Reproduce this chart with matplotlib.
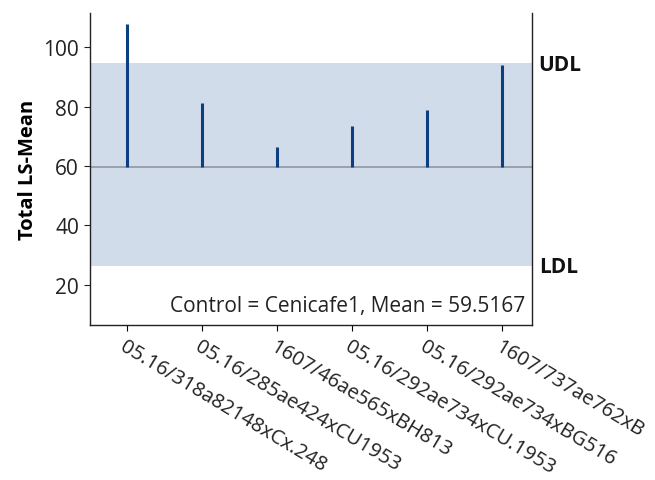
import matplotlib
matplotlib.use("Agg")
import matplotlib.pyplot as plt

plt.rcParams['font.family'] = ['Open Sans', 'DejaVu Sans']

# data
labels = ["05.16/318a82148xCx.248", "05.16/285ae424xCU1953", "1607/46ae565xBH813",
          "05.16/292ae734xCU.1953", "05.16/292ae734xBG516", "1607/737ae762xB"]
ls_means = [107.7, 81.2, 66.3, 73.4, 78.9, 94.0]
control_mean = 59.5167
udl = 94.7
ldl = 26.4

fig = plt.figure(figsize=(6.55, 4.81), dpi=100)
ax = fig.add_axes([90 / 655, 1 - 326 / 481, 442 / 655, 312 / 481])

x = list(range(len(labels)))
ax.axhspan(ldl, udl, color="#d1dcea", zorder=0, lw=0)
ax.axhline(control_mean, color="#8c9098", lw=1.1, zorder=1)
ax.vlines(x, control_mean, ls_means, color="#0b3f7f", lw=2.2, zorder=2)

ax.set_xlim(-0.49, 5.40)
ax.set_ylim(6.5, 111.5)
ax.set_yticks([20, 40, 60, 80, 100])
ax.set_xticks(x)
ax.set_xticklabels(labels, rotation=-31, ha="left", va="top",
                   rotation_mode="anchor", fontsize=14.6, color="#222222")
ax.tick_params(axis="y", labelsize=15, length=4.3, colors="#222222", pad=3.6)
ax.tick_params(axis="x", length=4.3, pad=4)
ax.spines["top"].set_visible(False)
for s in ["left", "bottom", "right"]:
    ax.spines[s].set_color("#222222")
    ax.spines[s].set_linewidth(1.0)

ax.set_ylabel("Total LS-Mean", fontsize=14.5, fontweight="bold", labelpad=4)

ax.text(0.985, 0.03, f"Control = Cenicafe1, Mean = {control_mean:.4f}",
        transform=ax.transAxes, ha="right", va="bottom", fontsize=15, color="#222222")

ax.text(1.015, udl - 0.6, "UDL", transform=ax.get_yaxis_transform(), ha="left", va="center",
        fontsize=15, fontweight="bold", color="#111111")
ax.text(1.015, ldl - 0.3, "LDL", transform=ax.get_yaxis_transform(), ha="left", va="center",
        fontsize=15, fontweight="bold", color="#111111")

fig.savefig("out.png", dpi=100)
